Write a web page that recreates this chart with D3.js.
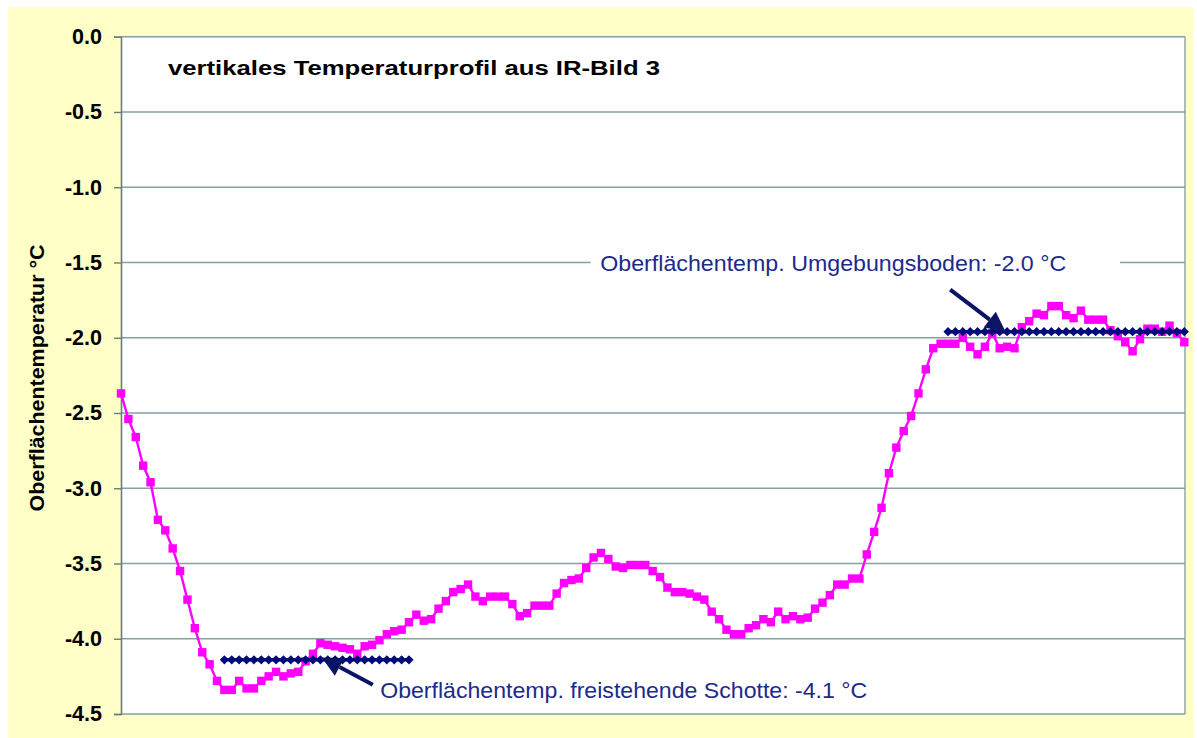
<!DOCTYPE html>
<html>
<head>
<meta charset="utf-8">
<script src="https://cdn.jsdelivr.net/npm/d3@7"></script>
<style>
    body { margin: 0; background: #ffffff; }
    #chart-container { width: 1197px; height: 738px; }
    text { font-family: "Liberation Sans", Arial, sans-serif; }
</style>
</head>
<body>
<div id="chart-container"></div>
<script>
// Temperature profile along the image column (one value per pixel row step)
const profileValues = [
    -2.37, -2.54, -2.66, -2.85, -2.96, -3.21, -3.28, -3.40, -3.55, -3.74,
    -3.93, -4.09, -4.17, -4.28, -4.34, -4.34, -4.28, -4.33, -4.33, -4.28,
    -4.25, -4.22, -4.25, -4.23, -4.22, -4.15, -4.10, -4.03, -4.04, -4.05,
    -4.06, -4.07, -4.10, -4.05, -4.04, -4.01, -3.97, -3.95, -3.94, -3.89,
    -3.84, -3.88, -3.87, -3.80, -3.75, -3.69, -3.67, -3.64, -3.72, -3.75,
    -3.72, -3.72, -3.72, -3.77, -3.85, -3.83, -3.78, -3.78, -3.78, -3.70,
    -3.63, -3.61, -3.60, -3.53, -3.46, -3.43, -3.47, -3.52, -3.53, -3.51,
    -3.51, -3.51, -3.55, -3.59, -3.66, -3.69, -3.69, -3.70, -3.72, -3.74,
    -3.82, -3.87, -3.94, -3.97, -3.97, -3.93, -3.91, -3.87, -3.89, -3.82,
    -3.87, -3.85, -3.87, -3.86, -3.80, -3.76, -3.71, -3.64, -3.64, -3.60,
    -3.60, -3.44, -3.29, -3.13, -2.90, -2.73, -2.62, -2.52, -2.37, -2.21,
    -2.07, -2.04, -2.04, -2.04, -2.00, -2.06, -2.11, -2.06, -1.97, -2.07,
    -2.06, -2.07, -1.93, -1.89, -1.84, -1.85, -1.79, -1.79, -1.85, -1.87,
    -1.82, -1.88, -1.88, -1.88, -1.95, -1.99, -2.03, -2.09, -2.01, -1.94,
    -1.94, -1.96, -1.92, -1.97, -2.03
];

// Mean level of the free-standing gravel (starts at profile index 14)
const schotteStart = 14;
const schotteValues = [
    -4.14, -4.14, -4.14, -4.14, -4.14, -4.14, -4.14, -4.14, -4.14, -4.14,
    -4.14, -4.14, -4.14, -4.14, -4.14, -4.14, -4.14, -4.14, -4.14, -4.14,
    -4.14, -4.14, -4.14, -4.14, -4.14, -4.14
];

// Mean level of the surrounding ground (starts at profile index 112)
const bodenStart = 112;
const bodenValues = [
    -1.96, -1.96, -1.96, -1.96, -1.96, -1.96, -1.96, -1.96, -1.96, -1.96,
    -1.96, -1.96, -1.96, -1.96, -1.96, -1.96, -1.96, -1.96, -1.96, -1.96,
    -1.96, -1.96, -1.96, -1.96, -1.96, -1.96, -1.96, -1.96, -1.96, -1.96,
    -1.96, -1.96, -1.96
];

const yTicks = [0, -0.5, -1, -1.5, -2, -2.5, -3, -3.5, -4, -4.5];

const titleText = 'vertikales Temperaturprofil aus IR-Bild 3';
const yAxisTitle = 'Oberflächentemperatur  °C';
const bodenLabel = 'Oberflächentemp. Umgebungsboden: -2.0 °C';
const schotteLabel = 'Oberflächentemp. freistehende Schotte: -4.1 °C';

// Layout
const width = 1197;
const height = 738;
const plot = { left: 121, right: 1185, top: 36.7, bottom: 714 };

const svg = d3.select('#chart-container')
    .append('svg')
    .attr('width', width)
    .attr('height', height);

// Pale yellow chart area
svg.append('rect')
    .attr('x', 8).attr('y', 7)
    .attr('width', 1185).attr('height', 731)
    .attr('fill', '#ffffc8');

// White plot area
svg.append('rect')
    .attr('x', plot.left).attr('y', plot.top)
    .attr('width', plot.right - plot.left)
    .attr('height', plot.bottom - plot.top)
    .attr('fill', '#ffffff');

const x = d3.scaleLinear()
    .domain([0, profileValues.length - 1])
    .range([plot.left, plot.right - 0.7]);

const y = d3.scaleLinear()
    .domain([-4.5, 0])
    .range([plot.bottom, plot.top]);

// Horizontal gridlines
svg.append('g')
    .selectAll('line')
    .data(yTicks)
    .enter()
    .append('line')
    .attr('x1', plot.left)
    .attr('x2', plot.right)
    .attr('y1', d => y(d))
    .attr('y2', d => y(d))
    .attr('stroke', '#86a0a0')
    .attr('stroke-width', 1.4);

// Right border of the plot
svg.append('line')
    .attr('x1', plot.right).attr('x2', plot.right)
    .attr('y1', plot.top).attr('y2', plot.bottom)
    .attr('stroke', '#86a0a0')
    .attr('stroke-width', 1.4);

// Y axis with ticks and labels
const yAxis = d3.axisLeft(y)
    .tickValues(yTicks)
    .tickSize(7)
    .tickPadding(12)
    .tickFormat(d => d.toFixed(1));

const yAxisG = svg.append('g')
    .attr('transform', `translate(${plot.left},0)`)
    .call(yAxis);

yAxisG.select('.domain')
    .attr('stroke', '#6a7c7c')
    .attr('stroke-width', 1.6);
yAxisG.selectAll('.tick line')
    .attr('stroke', '#6a7c7c')
    .attr('stroke-width', 1.4);
yAxisG.selectAll('.tick text')
    .attr('fill', '#000000')
    .style('font-size', '21.5px')
    .style('font-weight', 'bold');

// Y axis title
svg.append('text')
    .attr('transform', 'translate(44,378) rotate(-90)')
    .attr('text-anchor', 'middle')
    .attr('textLength', 267)
    .attr('lengthAdjust', 'spacingAndGlyphs')
    .style('font-size', '19.5px')
    .style('font-weight', 'bold')
    .attr('fill', '#000000')
    .text(yAxisTitle);

// Chart title inside plot
svg.append('text')
    .attr('x', 168)
    .attr('y', 75)
    .attr('textLength', 492)
    .attr('lengthAdjust', 'spacingAndGlyphs')
    .style('font-size', '21px')
    .style('font-weight', 'bold')
    .attr('fill', '#000000')
    .text(titleText);

// Profile line (magenta with square markers)
const profileData = profileValues.map((v, i) => ({ i: i, v: v }));

const lineGen = d3.line()
    .x(d => x(d.i))
    .y(d => y(d.v));

svg.append('path')
    .datum(profileData)
    .attr('d', lineGen)
    .attr('fill', 'none')
    .attr('stroke', '#ff00ff')
    .attr('stroke-width', 2.4);

const sq = 8.4;
svg.append('g')
    .selectAll('rect')
    .data(profileData)
    .enter()
    .append('rect')
    .attr('x', d => x(d.i) - sq / 2)
    .attr('y', d => y(d.v) - sq / 2)
    .attr('width', sq)
    .attr('height', sq)
    .attr('fill', '#ff00ff');

// Function to draw a mean-level series with diamond markers
function drawLevel(values, start) {
    const data = values.map((v, k) => ({ i: start + k, v: v }));

    svg.append('path')
        .datum(data)
        .attr('d', lineGen)
        .attr('fill', 'none')
        .attr('stroke', '#000a78')
        .attr('stroke-width', 3.5);

    const r = 4.6;
    svg.append('g')
        .selectAll('path')
        .data(data)
        .enter()
        .append('path')
        .attr('d', d => {
            const cx = x(d.i), cy = y(d.v);
            return `M${cx},${cy - r}L${cx + r},${cy}L${cx},${cy + r}L${cx - r},${cy}Z`;
        })
        .attr('fill', '#000a78');
}

drawLevel(schotteValues, schotteStart);
drawLevel(bodenValues, bodenStart);

// Function to draw an annotation arrow (in data coordinates)
function drawArrow(from, to) {
    const x1 = x(from[0]), y1 = y(from[1]);
    const x2 = x(to[0]), y2 = y(to[1]);
    const len = Math.hypot(x2 - x1, y2 - y1);
    const ux = (x2 - x1) / len, uy = (y2 - y1) / len;
    const headLen = 20, headHalf = 10;
    const bx = x2 - ux * headLen, by = y2 - uy * headLen;

    svg.append('line')
        .attr('x1', x1).attr('y1', y1)
        .attr('x2', bx).attr('y2', by)
        .attr('stroke', '#0a1464')
        .attr('stroke-width', 4);

    svg.append('path')
        .attr('d', `M${x2},${y2}L${bx - uy * headHalf},${by + ux * headHalf}L${bx + uy * headHalf},${by - ux * headHalf}Z`)
        .attr('fill', '#0a1464');
}

// Label box for the ground temperature (hides the gridline behind it)
svg.append('rect')
    .attr('x', x(63.6))
    .attr('y', y(-1.42))
    .attr('width', x(135.3) - x(63.6))
    .attr('height', y(-1.64) - y(-1.42))
    .attr('fill', '#ffffff');

svg.append('text')
    .attr('x', x(64.9))
    .attr('y', y(-1.56))
    .attr('textLength', 466)
    .attr('lengthAdjust', 'spacingAndGlyphs')
    .style('font-size', '21.5px')
    .attr('fill', '#1c2a8c')
    .text(bodenLabel);

svg.append('text')
    .attr('x', x(35.1))
    .attr('y', y(-4.393))
    .attr('textLength', 487)
    .attr('lengthAdjust', 'spacingAndGlyphs')
    .style('font-size', '21.5px')
    .attr('fill', '#1c2a8c')
    .text(schotteLabel);

drawArrow([112.3, -1.68], [119.8, -1.96]);
drawArrow([34.1, -4.305], [27.2, -4.125]);
</script>
</body>
</html>
